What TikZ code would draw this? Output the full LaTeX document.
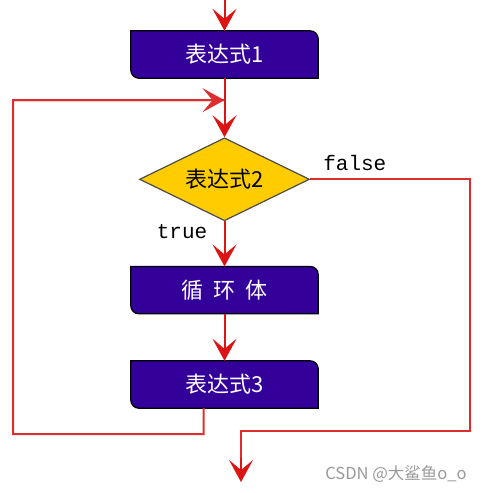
\documentclass[tikz,border=0pt]{standalone}
\usepackage{fontspec}
\setmainfont{Noto Sans CJK SC}
\newfontfamily\monofont{Liberation Mono}
\usetikzlibrary{
  arrows.meta, % for the Stealth arrow tip
  backgrounds, % to draw the box shapes behind the text
  positioning, % for relative positioning of the steps
  shapes.geometric, % for the diamond of the condition
}
\definecolor{flowred}{RGB}{220,20,20}
\definecolor{boxblue}{RGB}{51,0,153}
\definecolor{condgold}{RGB}{255,204,0}
\tikzset{
  procbox/.style={ % style for each step box (shape drawn behind it)
    rectangle, % plain rectangle, the rounded shape comes later
    inner sep=0pt, % no padding
    minimum width=187pt, % all boxes the same width
    minimum height=47pt, % and the same height
    text=white, % white text on the blue fill
    font=\fontsize{22}{26}\selectfont, % large text
  },
  procfill/.style={ % style for the shape behind the box
    fill=boxblue, % dark blue fill
    draw=black, % black border
    line width=1.2pt,
  },
  cond/.style={ % style for the condition
    diamond,draw=black!70, % drawn as a diamond
    fill=condgold, % gold fill
    line width=1.2pt,
    aspect=2, % twice as wide as tall
    inner sep=0pt,
    minimum width=170pt, % size of the diamond
    minimum height=83pt,
    font=\fontsize{22}{26}\selectfont,
  },
  lbl/.style={ % style for the true/false labels
    inner sep=1pt,
    font=\monofont\fontsize{21}{24}\selectfont,
  },
  flow/.style={ % style for the connections
    -{Stealth[length=22pt,width=24pt,inset=10pt]}, % barbed arrow tip
    draw=flowred,line width=2pt,
  },
  back/.style={ % style for the loop lines
    draw=flowred!90!white,line width=2pt,
  },
}
\newcommand{\procshape}[1]{%
  \filldraw[procfill] (#1.north west) -- ([xshift=-8pt]#1.north east)
    arc[start angle=90,end angle=0,radius=8pt] -- (#1.south east)
    -- ([xshift=8pt]#1.south west)
    arc[start angle=270,end angle=180,radius=8pt] -- cycle;}

\begin{document}
\begin{tikzpicture}[x=1pt,y=1pt]

	\useasboundingbox (0,0) rectangle (484,-493);

	\node[procbox] (b1) at (224.5,-54.5) {表达式1};
	\node[cond,below=59pt of b1] (c2) {表达式2};
	\node[procbox,below=45pt of c2] (body) {循\hspace{0.45em}环\hspace{0.45em}体};
	\node[procbox,below=47pt of body] (b3) {表达式3};

	\begin{pgfonlayer}{background}
		\procshape{b1}
		\procshape{body}
		\procshape{b3}
	\end{pgfonlayer}

	\node[lbl,above right=7pt and 12pt of c2.east] (false) {false};
	\node[lbl,below left=2pt and 16pt of c2.south] (true) {true};

	\node[text=black!40,font=\fontsize{16.5}{20}\selectfont] (mark) at (396,-474) {CSDN @大鲨鱼o\_o};

	\coordinate (entry) at ([yshift=31pt]b1.north);
	\coordinate (join) at ([yshift=-22pt]b1.south);
	\coordinate (exit) at (241,-482);

	\draw[flow] (entry) -- (b1);
	\draw[flow] (b1) -- (c2);
	\draw[flow] (c2) -- (body);
	\draw[flow] (body) -- (b3);

	\draw[back] ([xshift=-21pt]b3.south) -- ++(0,-26) -| (13,-100) -- (join);
	\draw[flow,draw=flowred!90!white] (13,-100) -- (join);

	\draw[back] (c2.east) -- ++(160,0) -- ++(0,-252) -| ([yshift=24pt]exit);
	\draw[flow] ([yshift=24pt]exit) -- (exit);

\end{tikzpicture}
\end{document}
